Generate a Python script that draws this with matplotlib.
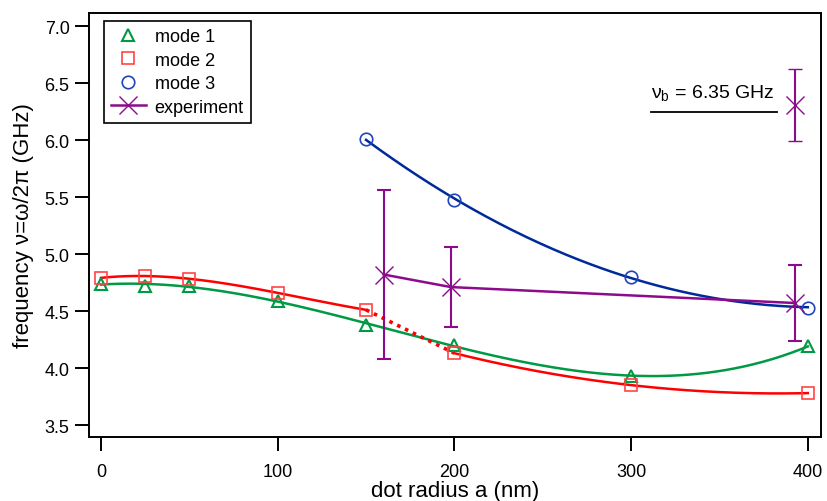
import matplotlib
matplotlib.use("Agg")
import matplotlib.pyplot as plt
import numpy as np

plt.rcParams['font.family'] = ['Liberation Sans', 'DejaVu Sans']
plt.rcParams['mathtext.fontset'] = 'custom'
plt.rcParams['mathtext.rm'] = 'Liberation Sans'
plt.rcParams['mathtext.it'] = 'Liberation Sans'

# data
radius = [0, 25, 50, 100, 150, 200, 300, 400]
mode1 = [4.74, 4.72, 4.72, 4.59, 4.38, 4.20, 3.93, 4.19]
mode2 = [4.79, 4.81, 4.78, 4.66, 4.51, 4.13, 3.85, 3.78]
radius3 = [150, 200, 300, 400]
mode3 = [6.01, 5.47, 4.80, 4.53]
exp_r = [160, 198, 393]
exp_f = [4.82, 4.71, 4.57]
exp_err = [0.74, 0.35, 0.33]
vb_r = [393]
vb_f = [6.31]
vb_err = [0.315]

green = '#009944'
red = '#FF0000'
blue = '#002A9A'
purple = '#8C0A8C'

fig = plt.figure(figsize=(8.27, 5.02), dpi=100)
ax = fig.add_axes([0.1076, 0.1275, 0.885, 0.8446])

# smooth fits through the model points
r = np.array(radius, float)
xs = np.linspace(0, 400, 300)
p1 = np.polyfit(r, mode1, 3)
ax.plot(xs, np.polyval(p1, xs), color=green, lw=1.8)

xa = np.linspace(0, 150, 150)
p2a = np.polyfit(r[:5], mode2[:5], 3)
ax.plot(xa, np.polyval(p2a, xa), color=red, lw=1.8)
xb = np.linspace(200, 400, 150)
p2b = np.polyfit(r[5:], mode2[5:], 2)
ax.plot(xb, np.polyval(p2b, xb), color=red, lw=1.8)
ax.plot(radius[4:6], mode2[4:6], color=red, lw=2.6, ls=(0, (1, 1.4)))

x3 = np.linspace(150, 400, 200)
p3 = np.polyfit(radius3, mode3, 2)
ax.plot(x3, np.polyval(p3, x3), color=blue, lw=1.8)

ax.plot(radius, mode1, ls='none', marker='^', ms=9, mfc='none', mec=green, mew=1.5, label='mode 1')
ax.plot(radius, mode2, ls='none', marker='s', ms=9, mfc='none', mec='#FF4444', mew=1.2, label='mode 2')
ax.plot(radius3, mode3, ls='none', marker='o', ms=9, mfc='none', mec='#2244BB', mew=1.2, label='mode 3')

ax.errorbar(exp_r, exp_f, yerr=exp_err, color=purple, ls='none', marker='none',
            capsize=5, elinewidth=1.5, capthick=1.5)
ax.plot(exp_r, exp_f, color=purple, lw=1.8, marker='x', ms=13, mew=1.0, label='experiment')
ax.errorbar(vb_r, vb_f, yerr=vb_err, color=purple, ls='none', marker='x', ms=13,
            mew=1.0, capsize=5, elinewidth=1.5, capthick=1.5)

ax.text(346.5, 6.377, r'ν$_{\rm b}$ = 6.35 GHz', ha='center', va='baseline', fontsize=14)
ax.plot([311.5, 382.5], [6.243, 6.243], color='black', lw=1.3)

ax.set_xlim(-6.8, 407.4)
ax.set_ylim(3.395, 7.114)
ax.set_xticks([0, 100, 200, 300, 400])
ax.set_yticks(np.arange(3.5, 7.01, 0.5))
ax.yaxis.set_major_formatter(matplotlib.ticker.FormatStrFormatter('%.1f'))
ax.tick_params(direction='out', length=10, width=1.4, labelsize=13)
ax.tick_params(axis='x', pad=9)
ax.tick_params(axis='y', pad=4)
ax.tick_params(top=False, right=False)
for s in ax.spines.values():
    s.set_linewidth(1.4)

ax.set_xlabel('dot radius a (nm)', fontsize=16, labelpad=0)
ax.set_ylabel('frequency ν=ω/2π (GHz)', fontsize=16)
ax.yaxis.set_label_coords(-0.075, 0.5)

leg = ax.legend(loc='upper left', bbox_to_anchor=(0.0205, 0.981), fontsize=13,
                frameon=True, fancybox=False, edgecolor='black', framealpha=1,
                handlelength=1.9, handletextpad=0.5, borderpad=0.4, labelspacing=0.36,
                borderaxespad=0)
leg.get_frame().set_linewidth(1.2)

fig.savefig('out.png', dpi=100)
